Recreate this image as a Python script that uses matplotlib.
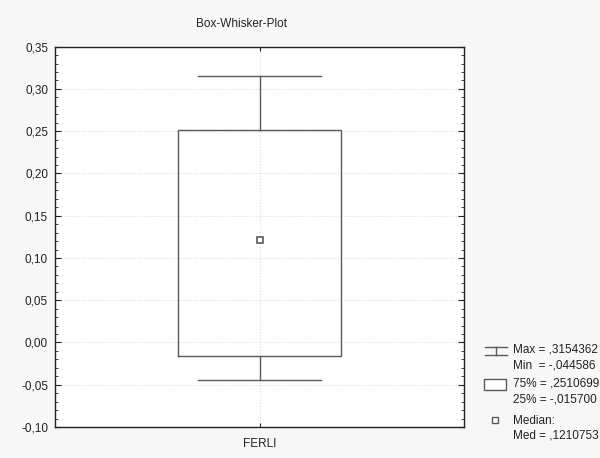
import matplotlib
matplotlib.use('Agg')
import matplotlib.pyplot as plt
from matplotlib.ticker import MultipleLocator, FuncFormatter
from matplotlib.lines import Line2D
from matplotlib.patches import Rectangle

plt.rcParams['font.family'] = ['Liberation Sans', 'DejaVu Sans']

# Werte
variable = 'FERLI'
v_max = 0.3154362
v_min = -0.044586
q75 = 0.2510699
q25 = -0.015700
med = 0.1210753

bg = '#f7f7f7'
lc = '#5a5a5a'
tc = '#222222'

fig = plt.figure(figsize=(6.0, 4.58), dpi=100, facecolor=bg)
ax = fig.add_axes([0.0917, 0.0677, 0.6816, 0.8304])
ax.set_facecolor('white')

stats = [dict(label=variable, med=med, q1=q25, q3=q75, whislo=v_min, whishi=v_max, fliers=[])]
ax.bxp(stats, positions=[1], widths=0.8, showfliers=False, capwidths=0.6,
       boxprops=dict(color=lc, linewidth=1.0),
       whiskerprops=dict(color=lc, linewidth=1.0),
       capprops=dict(color=lc, linewidth=1.0),
       medianprops=dict(visible=False))
ax.plot([1], [med], marker='s', markersize=5, markerfacecolor='white',
        markeredgecolor=lc, markeredgewidth=1.2, linestyle='none', zorder=5)

ax.set_xlim(0, 2)
ax.set_ylim(-0.10, 0.35)
ax.yaxis.set_major_locator(MultipleLocator(0.05))
ax.yaxis.set_minor_locator(MultipleLocator(0.01))
ax.yaxis.set_major_formatter(FuncFormatter(lambda v, p: ('%.2f' % v).replace('.', ',').replace('-0,00', '0,00')))
ax.set_xticks([1])
ax.set_xticklabels([variable])
ax.tick_params(axis='both', which='both', direction='in', right=True, top=True,
               labelsize=8.5, colors=tc)
ax.tick_params(axis='y', which='major', length=4, pad=5)
ax.tick_params(axis='y', which='minor', length=2)
ax.tick_params(axis='x', length=3, pad=8)
ax.grid(True, which='major', color='#dddddd', linestyle=':', linewidth=0.8)
for s in ax.spines.values():
    s.set_color(tc)
    s.set_linewidth(1.0)

fig.text(0.403, 1 - 24 / 458, 'Box-Whisker-Plot', ha='center', va='center', fontsize=8.5, color=tc)

# Legende
fs = 8.5
tx = 0.855


def fy(py):
    return 1 - py / 458


fig.add_artist(Line2D([0.808, 0.845], [fy(347)] * 2, color=lc, lw=1, transform=fig.transFigure))
fig.add_artist(Line2D([0.808, 0.845], [fy(355)] * 2, color=lc, lw=1, transform=fig.transFigure))
fig.add_artist(Line2D([0.8265, 0.8265], [fy(347), fy(355)], color=lc, lw=1, transform=fig.transFigure))
fig.text(tx, fy(350), 'Max = ,3154362', fontsize=fs, color=tc, va='center')
fig.text(tx, fy(365), 'Min  = -,044586', fontsize=fs, color=tc, va='center')
fig.add_artist(Rectangle((0.807, fy(390)), 0.036, 11 / 458, transform=fig.transFigure,
                         facecolor='white', edgecolor=lc, lw=1))
fig.text(tx, fy(383), '75% = ,2510699', fontsize=fs, color=tc, va='center')
fig.text(tx, fy(399), '25% = -,015700', fontsize=fs, color=tc, va='center')
fig.add_artist(Line2D([0.825], [fy(420)], marker='s', markersize=4.5, markerfacecolor='white',
                      markeredgecolor=lc, markeredgewidth=1, transform=fig.transFigure))
fig.text(tx, fy(421), 'Median:', fontsize=fs, color=tc, va='center')
fig.text(tx, fy(436), 'Med = ,1210753', fontsize=fs, color=tc, va='center')

fig.savefig('out.png', dpi=100, facecolor=bg)
